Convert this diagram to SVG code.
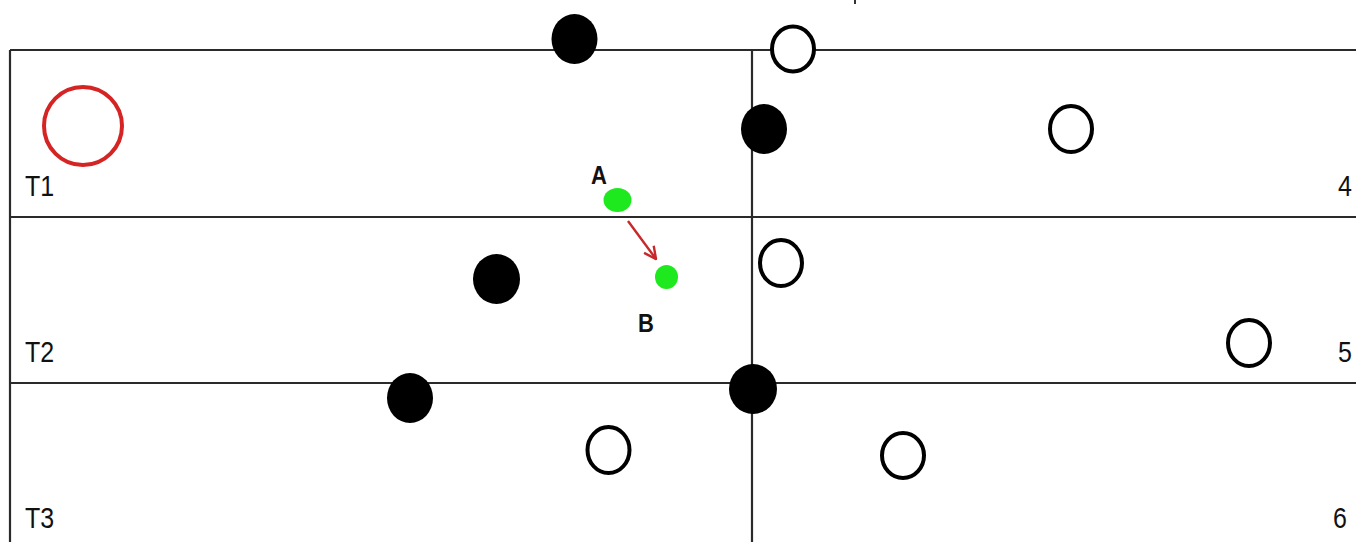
<svg xmlns="http://www.w3.org/2000/svg" width="1356" height="542" viewBox="0 0 1356 542">
<style>
.grid{stroke:#2a2a2a;stroke-width:2.2;fill:none}
.solid{fill:#000}
.hollow{fill:#fff;stroke:#000;stroke-width:4}
.green{fill:#1ee81e}
.lbl{font-family:"Liberation Sans",Arial,sans-serif;font-size:25px;fill:#111}
.pt{font-family:"Liberation Sans",Arial,sans-serif;font-size:22px;font-weight:bold;fill:#111}
</style>
<defs>
<marker id="arr" viewBox="0 0 14 14" refX="13" refY="7" markerWidth="14" markerHeight="14" markerUnits="userSpaceOnUse" orient="auto">
<path d="M1,1 L13,7 L1,13" fill="none" stroke="#c8282a" stroke-width="2.4"/>
</marker>
</defs>
<rect width="1356" height="542" fill="#fff"/>
<g id="grid">
<line class="grid" x1="10" y1="50" x2="1356" y2="50"/>
<line class="grid" x1="10" y1="217" x2="1356" y2="217"/>
<line class="grid" x1="10" y1="383" x2="1356" y2="383"/>
<line class="grid" x1="10" y1="50" x2="10" y2="542"/>
<line class="grid" x1="752" y1="50" x2="752" y2="542"/>
<line x1="855" y1="0" x2="855" y2="4" stroke="#333" stroke-width="2"/>
</g>
<g id="labels">
<text class="lbl" x="25" y="196" transform="matrix(1,0,0,1.15,0,-29.4)">T1</text>
<text class="lbl" x="25" y="362" transform="matrix(1,0,0,1.15,0,-54.3)">T2</text>
<text class="lbl" x="25" y="528" transform="matrix(1,0,0,1.15,0,-79.2)">T3</text>
<text class="lbl" x="1338" y="196" transform="matrix(1,0,0,1.15,0,-29.4)">4</text>
<text class="lbl" x="1338" y="362" transform="matrix(1,0,0,1.15,0,-54.3)">5</text>
<text class="lbl" x="1333" y="528" transform="matrix(1,0,0,1.15,0,-79.2)">6</text>
</g>
<g id="red-circle"><circle cx="83" cy="126" r="39" fill="none" stroke="#d42424" stroke-width="4"/></g>
<g id="black-1"><ellipse class="solid" cx="574.5" cy="39" rx="23" ry="25"/></g>
<g id="black-2"><ellipse class="solid" cx="764" cy="129" rx="23" ry="25"/></g>
<g id="black-3"><ellipse class="solid" cx="496.5" cy="279" rx="23.5" ry="25"/></g>
<g id="black-4"><ellipse class="solid" cx="410" cy="398" rx="23" ry="25"/></g>
<g id="black-5"><ellipse class="solid" cx="753" cy="389" rx="24" ry="25"/></g>
<g id="hollow-1"><ellipse class="hollow" cx="793" cy="49" rx="21" ry="22.5"/></g>
<g id="hollow-2"><ellipse class="hollow" cx="1071" cy="129" rx="21" ry="23"/></g>
<g id="hollow-3"><ellipse class="hollow" cx="781" cy="263" rx="21" ry="23"/></g>
<g id="hollow-4"><ellipse class="hollow" cx="1249" cy="343" rx="21" ry="23"/></g>
<g id="hollow-5"><ellipse class="hollow" cx="608.5" cy="450" rx="21" ry="23"/></g>
<g id="hollow-6"><ellipse class="hollow" cx="903" cy="455.5" rx="21" ry="22.5"/></g>
<g id="A"><ellipse class="green" cx="617.5" cy="200" rx="14" ry="12"/><text class="pt" x="591" y="184" transform="matrix(1,0,0,1.15,0,-27.6)">A</text></g>
<g id="B"><ellipse class="green" cx="666.5" cy="277" rx="11.5" ry="12"/><text class="pt" x="638" y="332" transform="matrix(1,0,0,1.15,0,-49.8)">B</text></g>
<g id="connectors">
<line x1="628" y1="221" x2="656" y2="259" stroke="#c8282a" stroke-width="2.4" marker-end="url(#arr)"/>
</g>
</svg>
